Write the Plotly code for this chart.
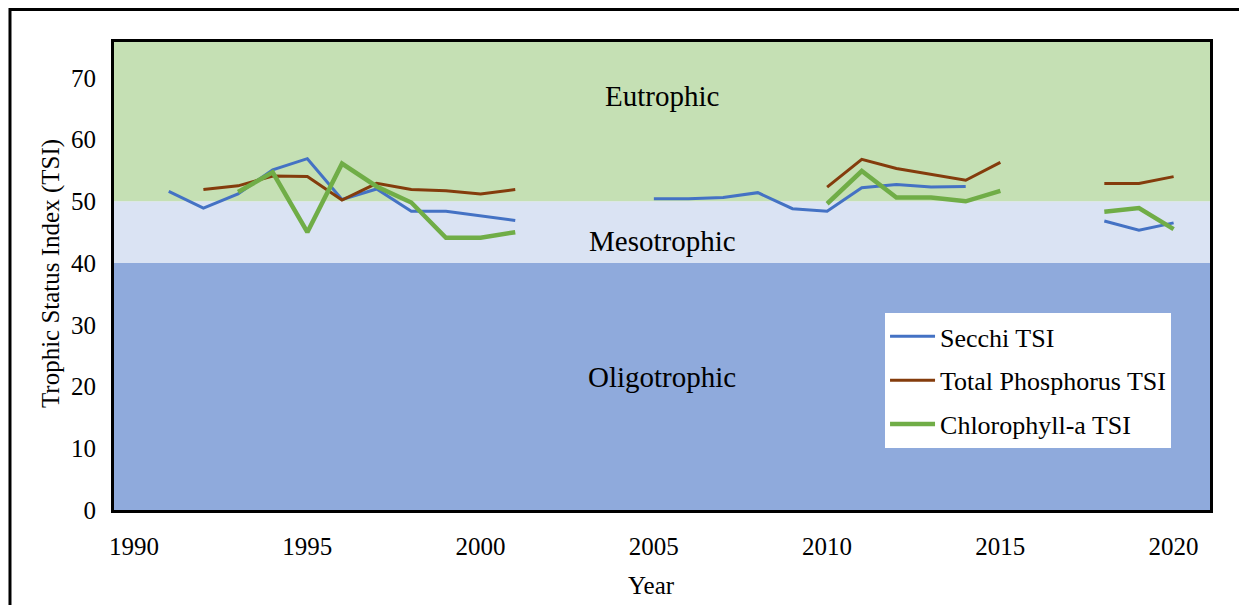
import plotly.graph_objects as go

years = list(range(1991, 2021))

secchi = [51.6, 48.9, 51.2, 55.1, 56.9, 50.3, 52.0, 48.4, 48.4, 47.7, 46.9,
          None, None, None,
          50.4, 50.4, 50.6, 51.4, 48.8, 48.4, 52.2, 52.7, 52.3, 52.4,
          None, None, None,
          46.8, 45.3, 46.5]
phosphorus = [None, 51.9, 52.5, 54.1, 54.0, 50.2, 52.9, 51.9, 51.7, 51.2, 51.9,
              None, None, None, None, None, None, None, None,
              52.3, 56.8, 55.3, 54.3, 53.4, 56.3,
              None, None,
              52.9, 52.9, 54.0]
chlorophyll = [None, None, 51.5, 54.7, 45.0, 56.1, 52.4, 49.8, 44.1, 44.1, 45.0,
               None, None, None, None, None, None, None, None,
               49.6, 54.9, 50.6, 50.6, 50.0, 51.7,
               None, None,
               48.3, 48.9, 45.5]

bands = [("Oligotrophic", 0, 40, "#8FAADC", 21.5),
         ("Mesotrophic", 40, 50, "#DAE3F3", 43.5),
         ("Eutrophic", 50, 76, "#C5E0B4", 67.0)]

x_ticks = [1990, 1995, 2000, 2005, 2010, 2015, 2020]
y_ticks = [0, 10, 20, 30, 40, 50, 60, 70]

FONT = "Liberation Serif, Times New Roman, serif"

fig = go.Figure()
series = [("Secchi TSI", secchi, "#4472C4", 3),
          ("Total Phosphorus TSI", phosphorus, "#843C0C", 3),
          ("Chlorophyll-a TSI", chlorophyll, "#70AD47", 4.5)]
for name, vals, col, w in series:
    fig.add_trace(go.Scatter(x=years, y=vals, mode="lines", name=name,
                             legendgroup=name, connectgaps=False,
                             line=dict(color=col, width=w)))

shapes = []
annotations = []
for label, y0, y1, col, ty in bands:
    shapes.append(dict(type="rect", xref="paper", yref="y", x0=0, x1=1, y0=y0, y1=y1,
                       fillcolor=col, line=dict(width=0), layer="below"))
    annotations.append(dict(x=0.5, y=ty, xref="paper", yref="y", text=label, showarrow=False,
                            font=dict(family=FONT, size=29, color="black")))

# outer frame
shapes.append(dict(type="rect", xref="paper", yref="paper", x0=-0.0949, x1=1.05,
                   y0=-0.25, y1=1.0694, line=dict(color="black", width=3),
                   fillcolor="rgba(0,0,0,0)", layer="above"))

annotations.append(dict(x=0.49, y=-0.162, xref="paper", yref="paper", text="Year",
                        showarrow=False, yanchor="middle",
                        font=dict(family=FONT, size=25, color="black")))
annotations.append(dict(x=-0.058, y=0.505, xref="paper", yref="paper",
                        text="Trophic Status Index (TSI)", textangle=-90,
                        showarrow=False, xanchor="center",
                        font=dict(family=FONT, size=25, color="black")))

fig.update_layout(
    width=1239, height=597,
    margin=dict(l=106, r=37, t=34, b=95),
    paper_bgcolor="white", plot_bgcolor="white",
    font=dict(family=FONT, size=24, color="black"),
    shapes=shapes, annotations=annotations,
    showlegend=True,
    legend=dict(x=0.7035, y=0.421, xanchor="left", yanchor="top",
                bgcolor="white", borderwidth=0, tracegroupgap=7,
                traceorder="grouped", itemwidth=45,
                font=dict(family=FONT, size=26, color="black")),
    xaxis=dict(range=[1989.42, 2021.05], tickvals=x_ticks, showgrid=False,
               zeroline=False, showline=True, mirror=True, linecolor="black",
               linewidth=3, ticks="", ticklabelstandoff=12, automargin=False,
               tickfont=dict(family=FONT, size=25)),
    yaxis=dict(range=[0, 75.8], tickvals=y_ticks, showgrid=False,
               zeroline=False, showline=True, mirror=True, linecolor="black",
               linewidth=3, ticks="", ticklabelstandoff=10, automargin=False,
               tickfont=dict(family=FONT, size=25)),
)

fig.write_html("out.html")
